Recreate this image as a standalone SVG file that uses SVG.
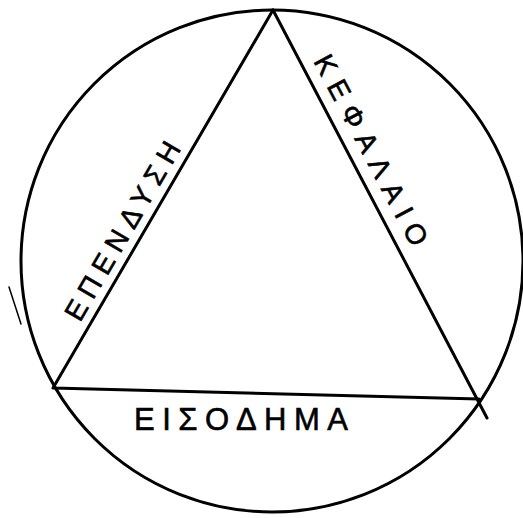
<svg xmlns="http://www.w3.org/2000/svg" width="523" height="518" viewBox="0 0 523 518">
<style>
.ln{fill:none;stroke:#000;stroke-width:3;stroke-linecap:round;stroke-linejoin:round}
.thin{fill:none;stroke:#000;stroke-width:1.5;stroke-linecap:round}
.lb{font-family:"Liberation Sans","DejaVu Sans",sans-serif;fill:#000;stroke:#000;stroke-width:0.6;font-weight:normal}
</style>
<rect width="523" height="518" fill="#fff"/>
<g id="circle">
<circle class="ln" cx="272" cy="261" r="251"/>
<line class="thin" x1="9" y1="287" x2="21" y2="324"/>
</g>
<g id="triangle">
<path class="ln" d="M273,10 L53,388 L479,399"/>
<path class="ln" d="M273,10 L487,418"/>
</g>
<g id="label-left">
<text class="lb" font-size="28" textLength="202" lengthAdjust="spacing" transform="translate(80,323) rotate(-59.8)">ΕΠΕΝΔΥΣΗ</text>
</g>
<g id="label-right">
<text class="lb" font-size="28" textLength="212" lengthAdjust="spacing" transform="translate(313,61) rotate(62.1)">ΚΕΦΑΛΑΙΟ</text>
</g>
<g id="label-bottom">
<text class="lb" font-size="31" textLength="214" lengthAdjust="spacing" x="134" y="430">ΕΙΣΟΔΗΜΑ</text>
</g>
</svg>
